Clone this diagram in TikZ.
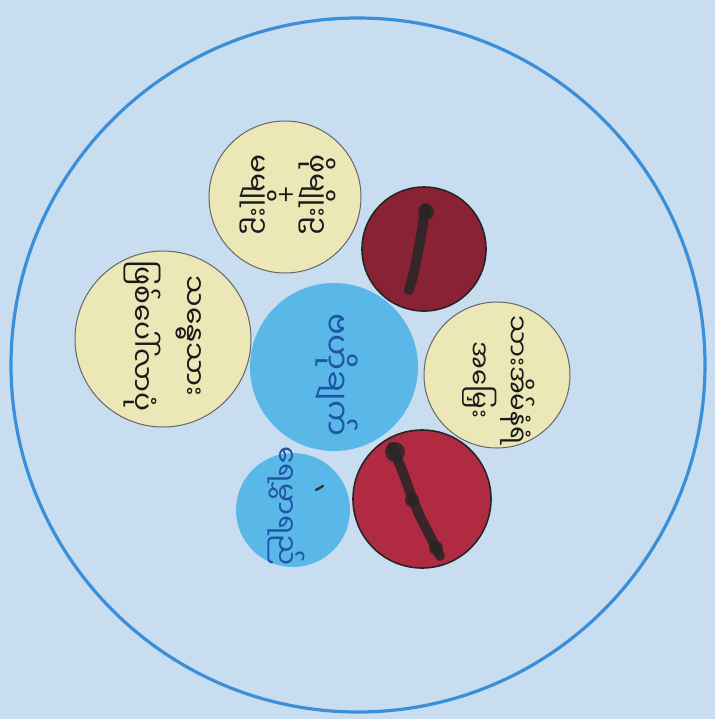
\documentclass[tikz,border=0pt]{standalone}
\usepackage{fontspec}
\newfontfamily\mmfont[Script=Myanmar]{Noto Sans Myanmar UI}
\newfontfamily\symfont{DejaVu Sans}
\definecolor{paperBlue}{HTML}{C9DDF1}
\definecolor{rimBlue}{HTML}{3A8FD8}
\definecolor{padYellow}{HTML}{EBE7B6}
\definecolor{skyBlue}{HTML}{5AB8E8}
\definecolor{wineDark}{HTML}{8A2236}
\definecolor{wineRed}{HTML}{B02A42}
\definecolor{inkBlue}{HTML}{1F55A6}
\definecolor{inkBlack}{HTML}{1A1A1A}

\begin{document}
\begin{tikzpicture}[
  x=0.5pt, y=-0.5pt,
  % --- Reusable styles -------------------------------------------------------
  rim/.style={circle, draw=rimBlue, line width=1.6pt, inner sep=0pt},
  pad/.style={circle, draw=black!60, line width=0.5pt, fill=padYellow, inner sep=0pt},
  pool/.style={circle, fill=skyBlue, inner sep=0pt},
  berry/.style={circle, draw=black!85, line width=0.8pt, fill=#1, inner sep=0pt},
  txt/.style={rotate=-90, align=center, inner sep=0pt, text=#1,
    font=\mmfont\fontsize{14}{26}\selectfont},
  blot/.style={draw=black!85, line width=5pt, line cap=round, line join=round, opacity=0.85},
]
\useasboundingbox (0,0) rectangle (715,719);
\fill[paperBlue] (0,0) rectangle (715,719);

% --- Circles -----------------------------------------------------------------
\node[rim, minimum size=347pt]     (world)  at (358,365) {};
\node[pad, minimum size=76pt]      (padA)   at (285,197) {};
\node[pad, minimum size=88pt]      (padB)   at (163,339) {};
\node[pool, minimum size=84pt]     (core)   at (334,367) {};
\node[pad, minimum size=73pt]      (padC)   at (497,375) {};
\node[pool, minimum size=57pt]     (drop)   at (293,510) {};
\node[berry=wineDark, minimum size=62pt] (berryA) at (424,249) {};
\node[berry=wineRed,  minimum size=69pt] (berryB) at (422,499) {};

% --- Labels ------------------------------------------------------------------
\node[txt=inkBlack, font=\mmfont\fontsize{14}{13.5}\selectfont] (padAText) at (288,195)
  {ဖိုမျိုးဥ\\{\symfont\fontsize{11}{13.5}\selectfont +}\\မမျိုးဥ};
\node[txt=inkBlack] (padBText) at (163,336) {သန္ဓေသား\\ဖြစ်ပေါ်လာပုံ};
\node[txt=inkBlue, font=\mmfont\fontsize{16}{20}\selectfont] (coreText) at (337,375) {ဗဟိုချက်};
\node[txt=inkBlack, font=\mmfont\fontsize{13}{19}\selectfont] (padCText) at (499,380)
  {သားအိမ်နံရံ\\အမြှေး};
\node[txt=inkBlue] (dropText) at (286,506) {ရေမွှာရည်};

% --- Marks on the red circles --------------------------------------------------
\draw[blot] plot[smooth] coordinates {(425,208) (422,230) (418,252) (414,272) (409,290)};
\fill[black!85, opacity=0.85] (426,212) circle (8);
\draw[blot] plot[smooth] coordinates {(392,447) (402,470) (410,492) (418,512) (428,532) (440,556)};
\fill[black!85, opacity=0.8] (395,452) circle (10);
\fill[black!85, opacity=0.8] (412,500) circle (7);
\fill[black!85, opacity=0.8] (436,548) circle (7);
\draw[black!80, line width=1.2pt, line cap=round] (316,490) -- (323,486);

\end{tikzpicture}
\end{document}
